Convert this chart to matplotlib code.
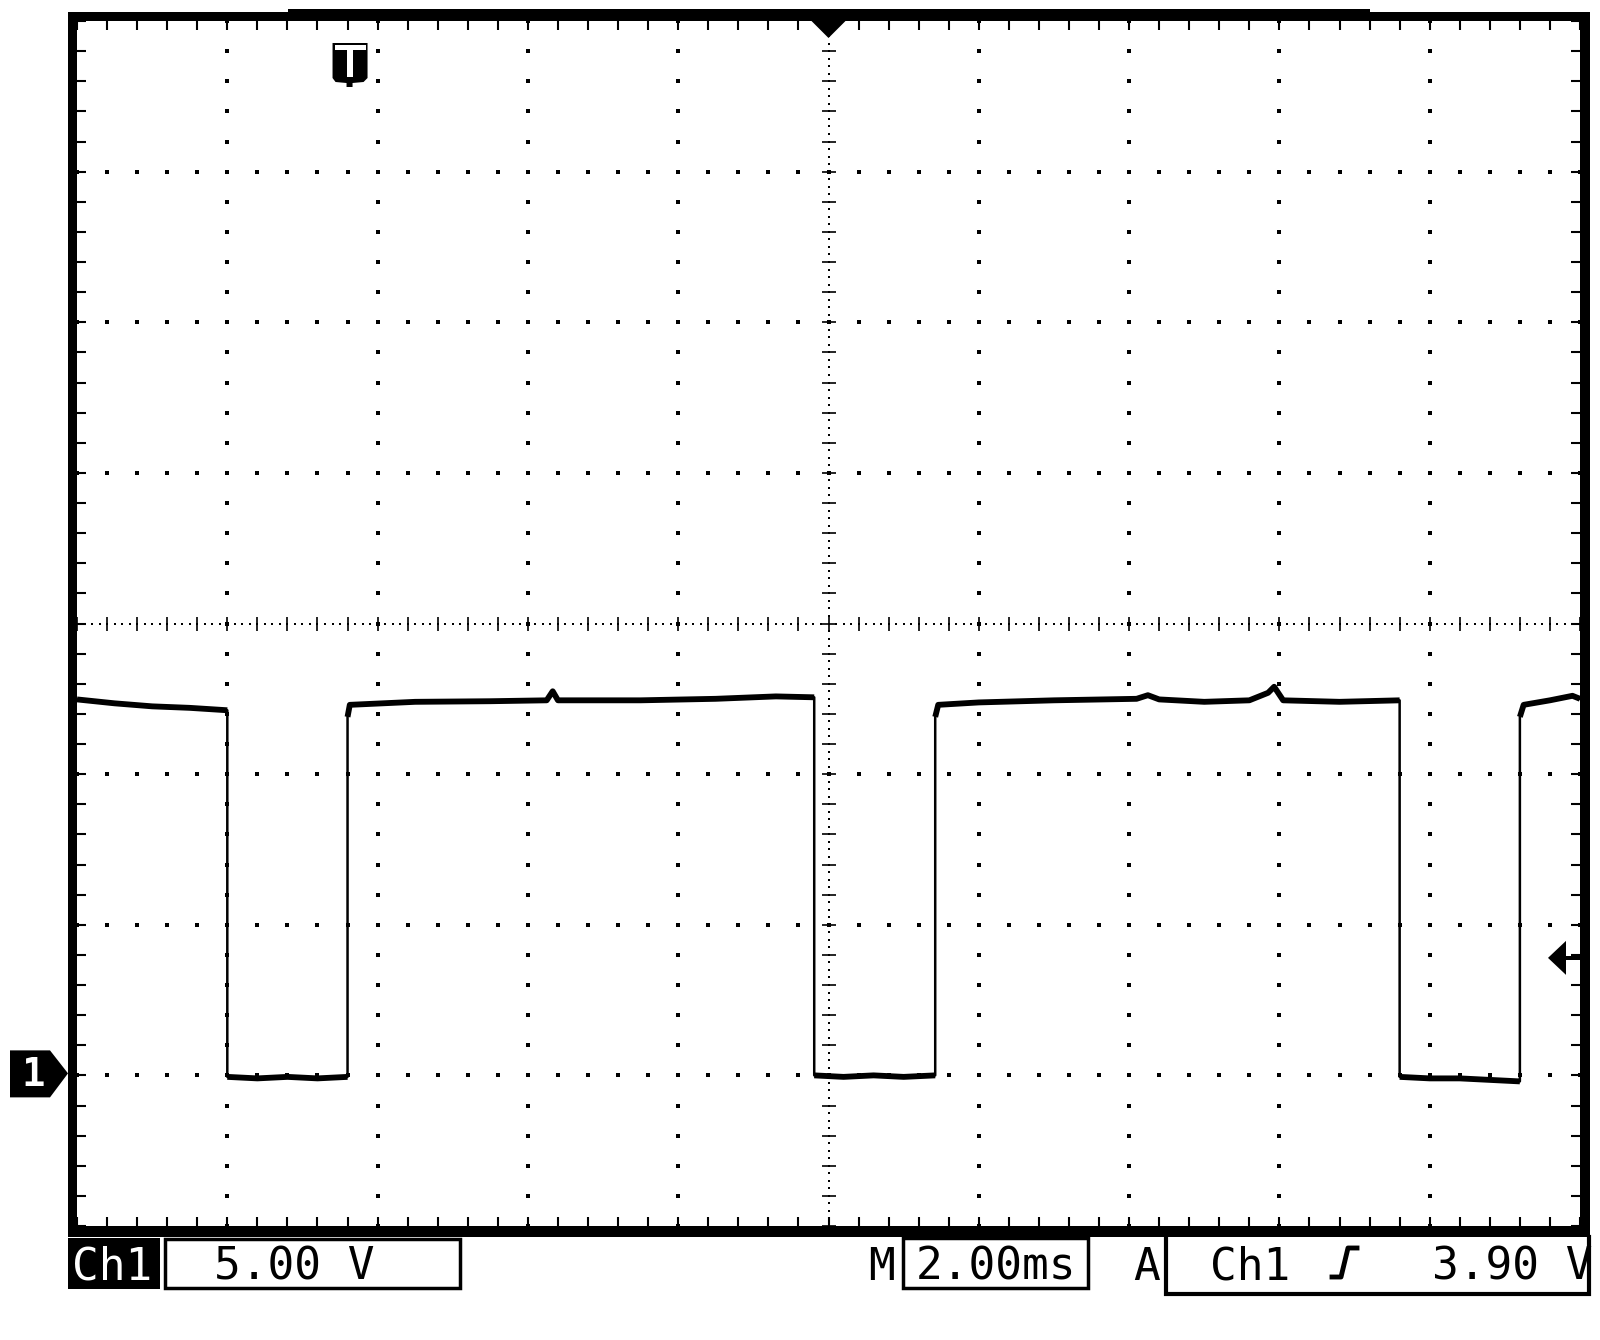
import numpy as np
import matplotlib.pyplot as plt
from matplotlib.patches import Rectangle, Polygon

# Ch1 trace: time (ms from left edge) and volts
times = [0.00, 0.50, 1.00, 1.50, 2.00,
         2.00, 2.40, 2.80, 3.20, 3.60,
         3.60, 3.63, 4.50, 5.50, 6.25, 6.33, 6.40, 7.50, 8.50, 9.30, 9.81,
         9.81, 10.20, 10.60, 11.00, 11.42,
         11.42, 11.46, 12.00, 13.00, 14.10, 14.25, 14.40, 15.00, 15.60, 15.85, 15.93, 16.05, 16.80, 17.60,
         17.60, 18.00, 18.40, 18.80, 19.20,
         19.20, 19.25, 19.60, 19.90, 20.00]
volts = [12.48, 12.35, 12.25, 12.20, 12.12,
         -0.05, -0.10, -0.05, -0.10, -0.05,
         11.90, 12.30, 12.40, 12.42, 12.45, 12.75, 12.45, 12.45, 12.50, 12.58, 12.55,
         0.00, -0.05, 0.00, -0.05, 0.00,
         11.90, 12.30, 12.38, 12.45, 12.50, 12.62, 12.48, 12.40, 12.45, 12.70, 12.90, 12.45, 12.40, 12.45,
         -0.05, -0.10, -0.10, -0.15, -0.20,
         11.90, 12.30, 12.45, 12.60, 12.50]

# scope settings shown in the status line
ch_label = 'Ch1'
volts_per_div = 5.00
ms_per_div = 2.00
trig_level = 3.90
ground_div = -3        # ground marker, divisions below centre
trig_time = 3.60       # T marker position (ms)

W, H = 1600, 1340
fig = plt.figure(figsize=(16, 13.4), dpi=100)
fig.patch.set_facecolor('white')

# screen area inside the black frame (pixels from top-left)
X0, X1, Y0, Y1 = 77, 1580, 21, 1226
ax = fig.add_axes([X0 / W, 1 - Y1 / H, (X1 - X0) / W, (Y1 - Y0) / H])
v_lo = (-4 - ground_div) * volts_per_div
v_hi = v_lo + 8 * volts_per_div
t_hi = 10 * ms_per_div
ax.set_xlim(0, t_hi)
ax.set_ylim(v_lo, v_hi)
for sp in ax.spines.values():
    sp.set_visible(False)

# border ticks every 1/5 division
ax.set_xticks(np.arange(0, t_hi + 0.01, ms_per_div / 5))
ax.set_yticks(np.arange(v_lo, v_hi + 0.01, volts_per_div / 5))
ax.tick_params(direction='in', length=6.5, width=1.5, top=True, right=True,
               labelbottom=False, labelleft=False, color='k')

# dotted graticule
t_mid = t_hi / 2
v_mid = (v_lo + v_hi) / 2
yy = np.arange(v_lo, v_hi + 0.01, volts_per_div / 5)
xx = np.arange(0, t_hi + 0.01, ms_per_div / 5)
for k in range(1, 10):
    gx = k * ms_per_div
    if gx == t_mid:
        continue
    ax.plot(np.full_like(yy, gx), yy, 's', ms=2.3, mew=0, color='k')
for k in range(1, 8):
    gy = v_lo + k * volts_per_div
    if gy == v_mid:
        continue
    ax.plot(xx, np.full_like(xx, gy), 's', ms=2.3, mew=0, color='k')

# centre lines: fine dots plus small cross ticks
yy_f = np.arange(v_lo, v_hi + 0.01, volts_per_div / 20)
xx_f = np.arange(0, t_hi + 0.01, ms_per_div / 20)
ax.plot(np.full_like(yy_f, t_mid), yy_f, 's', ms=1.9, mew=0, color='k')
ax.plot(xx_f, np.full_like(xx_f, v_mid), 's', ms=1.9, mew=0, color='k')
ax.plot(np.full_like(yy, t_mid), yy, '_', ms=10, mew=1.2, color='k')
ax.plot(xx, np.full_like(xx, v_mid), '|', ms=10, mew=1.2, color='k')

# the trace
t = np.array(times)
v = np.array(volts)
ax.plot(t, v, color='k', lw=1.8)
jumps = np.where(np.abs(np.diff(v)) > 5)[0]
starts = np.r_[0, jumps + 1]
ends = np.r_[jumps + 1, len(t)]
for s, e in zip(starts, ends):
    ax.plot(t[s:e], v[s:e], color='k', lw=4.2, solid_capstyle='butt')


# overlay in pixel coordinates for frame, markers and status line
ov = fig.add_axes([0, 0, 1, 1], zorder=5)
ov.set_xlim(0, W)
ov.set_ylim(H, 0)
ov.axis('off')


def px_x(tv):
    return X0 + tv / t_hi * (X1 - X0)


def px_y(vv):
    return Y1 - (vv - v_lo) / (v_hi - v_lo) * (Y1 - Y0)


def box(x0, y0, x1, y1, **kw):
    ov.add_patch(Rectangle((x0, y0), x1 - x0, y1 - y0, **kw))


# frame
box(68, 12, 77, 1237, color='k', lw=0)
box(68, 12, 1590, 21, color='k', lw=0)
box(1580, 12, 1590, 1237, color='k', lw=0)
box(68, 1226, 1590, 1237, color='k', lw=0)
box(288, 9, 1370, 12, color='k', lw=0)

# horizontal position marker at top centre
cx = px_x(t_mid)
ov.add_patch(Polygon([(cx - 17, 21), (cx + 17, 21), (cx, 38)], color='k', lw=0))

# trigger position "T" marker
tx = px_x(trig_time) + 2
ov.add_patch(Polygon([(tx - 17, 43), (tx + 18, 43), (tx + 18, 78), (tx + 14, 82),
                      (tx + 3, 83), (tx + 3, 87), (tx - 3, 87), (tx - 3, 83),
                      (tx - 14, 82), (tx - 17, 78)], color='k', lw=0))
box(tx - 15, 45, tx + 16, 50, color='white', lw=0)
box(tx - 3, 50, tx + 3, 77, color='white', lw=0)

# channel 1 ground marker
gy = px_y(0)
ov.add_patch(Polygon([(10, gy - 25), (50, gy - 25), (68, gy - 2), (50, gy + 22),
                      (10, gy + 22)], color='k', lw=0))
ov.text(33, gy, '1', color='white', fontsize=28, fontweight='bold',
        family='DejaVu Sans Mono', ha='center', va='center')

# trigger level arrow on the right
ty = px_y(trig_level)
ov.add_patch(Polygon([(1548, ty), (1566, ty - 17), (1566, ty + 17)], color='k', lw=0))
box(1560, ty - 2, 1580, ty + 2, color='k', lw=0)

# status line
font = dict(family='DejaVu Sans Mono', fontsize=32)
base = 1280
box(68, 1238, 160, 1289, color='k', lw=0)
ov.text(112, base, ch_label, color='white', ha='center', va='baseline', **font)
box(165, 1239, 460, 1288, fill=False, ec='k', lw=2.5)
ov.text(294, base, f'{volts_per_div:.2f} V', ha='center', va='baseline', **font)
ov.text(881, base, 'M', ha='center', va='baseline', **font)
box(903, 1238, 1088, 1288, fill=False, ec='k', lw=2.5)
ov.text(996, base, f'{ms_per_div:.2f}ms', ha='center', va='baseline', **font)
ov.text(1147, base, 'A', ha='center', va='baseline', **font)
ov.plot([1166, 1166, 1589, 1589], [1237, 1294, 1294, 1237], color='k', lw=3,
        solid_joinstyle='miter')
ov.text(1250, base, ch_label, ha='center', va='baseline', **font)
ov.plot([1332, 1341, 1348, 1357], [1277, 1277, 1248, 1248], color='k', lw=3.5)
ov.text(1512, base, f'{trig_level:.2f} V', ha='center', va='baseline', **font)

fig.savefig('out.png', dpi=100, facecolor='white')
